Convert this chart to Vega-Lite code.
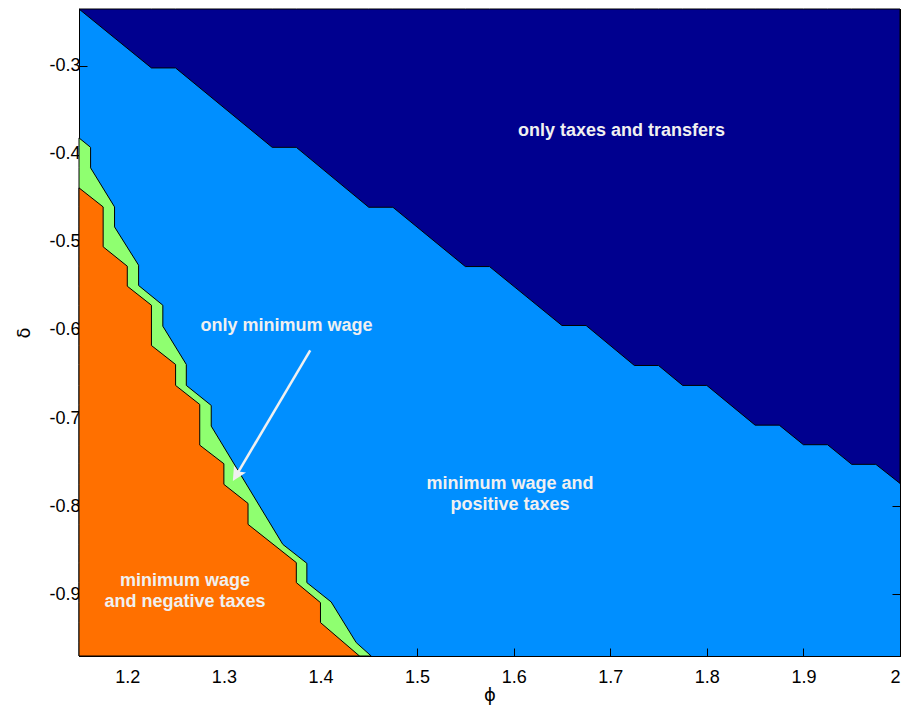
{
  "$schema": "https://vega.github.io/schema/vega-lite/v6.json",
  "width": 821,
  "height": 647,
  "autosize": "none",
  "padding": {"left": 79, "top": 9, "right": 6, "bottom": 54},
  "background": "white",
  "config": {
    "view": {"fill": "#008FFF", "stroke": "#000000", "strokeWidth": 1},
    "axis": {
      "grid": false,
      "domainColor": "#000000",
      "tickColor": "#000000",
      "labelColor": "#000000",
      "titleColor": "#000000",
      "labelFont": "Liberation Sans",
      "titleFont": "DejaVu Sans",
      "labelFontSize": 18,
      "titleFontSize": 18,
      "titleFontWeight": "normal",
      "tickSize": -8,
      "tickWidth": 1,
      "domainWidth": 1
    }
  },
  "datasets": {
    "dark": [
      {"phi": 1.15, "delta": -0.2357},
      {"phi": 1.225, "delta": -0.3026},
      {"phi": 1.25, "delta": -0.3026},
      {"phi": 1.35, "delta": -0.3927},
      {"phi": 1.375, "delta": -0.3927},
      {"phi": 1.45, "delta": -0.4607},
      {"phi": 1.475, "delta": -0.4607},
      {"phi": 1.55, "delta": -0.528},
      {"phi": 1.575, "delta": -0.528},
      {"phi": 1.65, "delta": -0.5949},
      {"phi": 1.675, "delta": -0.5949},
      {"phi": 1.725, "delta": -0.6403},
      {"phi": 1.75, "delta": -0.6403},
      {"phi": 1.775, "delta": -0.6629},
      {"phi": 1.8, "delta": -0.6629},
      {"phi": 1.85, "delta": -0.708},
      {"phi": 1.875, "delta": -0.708},
      {"phi": 1.9, "delta": -0.7302},
      {"phi": 1.925, "delta": -0.7302},
      {"phi": 1.95, "delta": -0.7525},
      {"phi": 1.975, "delta": -0.7525},
      {"phi": 2.0, "delta": -0.7741}
    ],
    "green": [
      {"phi": 1.15, "delta": -0.382},
      {"phi": 1.162, "delta": -0.3927},
      {"phi": 1.162, "delta": -0.416},
      {"phi": 1.1868, "delta": -0.4603},
      {"phi": 1.1868, "delta": -0.483},
      {"phi": 1.2117, "delta": -0.5265},
      {"phi": 1.2117, "delta": -0.5495},
      {"phi": 1.2368, "delta": -0.5719},
      {"phi": 1.2368, "delta": -0.5957},
      {"phi": 1.2611, "delta": -0.6391},
      {"phi": 1.2611, "delta": -0.6629},
      {"phi": 1.2869, "delta": -0.6856},
      {"phi": 1.2869, "delta": -0.7091},
      {"phi": 1.361, "delta": -0.8433},
      {"phi": 1.3859, "delta": -0.8648},
      {"phi": 1.3859, "delta": -0.8867},
      {"phi": 1.4111, "delta": -0.9087},
      {"phi": 1.437, "delta": -0.9548},
      {"phi": 1.4525, "delta": -0.97}
    ],
    "orange": [
      {"phi": 1.15, "delta": -0.4387},
      {"phi": 1.175, "delta": -0.4603},
      {"phi": 1.175, "delta": -0.5056},
      {"phi": 1.2, "delta": -0.5276},
      {"phi": 1.2, "delta": -0.5503},
      {"phi": 1.225, "delta": -0.5719},
      {"phi": 1.225, "delta": -0.6176},
      {"phi": 1.25, "delta": -0.6391},
      {"phi": 1.25, "delta": -0.6629},
      {"phi": 1.275, "delta": -0.6845},
      {"phi": 1.275, "delta": -0.7307},
      {"phi": 1.3, "delta": -0.7518},
      {"phi": 1.3, "delta": -0.7752},
      {"phi": 1.325, "delta": -0.7968},
      {"phi": 1.325, "delta": -0.8206},
      {"phi": 1.375, "delta": -0.864},
      {"phi": 1.375, "delta": -0.8867},
      {"phi": 1.4, "delta": -0.9094},
      {"phi": 1.4, "delta": -0.9321},
      {"phi": 1.4404, "delta": -0.97}
    ],
    "labels": [
      {"phi": 1.7116, "delta": -0.3737, "label": "only taxes and transfers"},
      {"phi": 1.3649, "delta": -0.596, "label": "only minimum wage"},
      {"phi": 1.5963, "delta": -0.7752, "label": "minimum wage and\npositive taxes"},
      {"phi": 1.2598, "delta": -0.8852, "label": "minimum wage\nand negative taxes"}
    ],
    "arrow": [
      {"phi": 1.3894, "delta": -0.6232, "phi2": 1.313, "delta2": -0.7647}
    ],
    "tip": [
      {"phi": 1.3093, "delta": -0.7715}
    ]
  },
  "resolve": {"axis": {"x": "independent", "y": "independent"}},
  "layer": [
    {
      "data": {"name": "dark"},
      "mark": {"type": "area", "orient": "vertical", "fill": "#00008F", "stroke": "#000000", "strokeWidth": 1, "fillOpacity": 1},
      "encoding": {
        "x": {"field": "phi", "type": "quantitative", "scale": {"domain": [1.15, 2.0], "nice": false, "zero": false},
          "axis": {"orient": "bottom", "values": [1.2, 1.3, 1.4, 1.5, 1.6, 1.7, 1.8, 1.9, 2.0], "labelExpr": "datum.value == 2 ? '2' : format(datum.value, '.1f')", "title": "ϕ", "labelPadding": 20.5, "titlePadding": 0}},
        "y": {"field": "delta", "type": "quantitative", "scale": {"domain": [-0.97, -0.2357], "nice": false, "zero": false},
          "axis": {"orient": "left", "values": [-0.9, -0.8, -0.7, -0.6, -0.5, -0.4, -0.3], "labelExpr": "'-' + format(-datum.value, '.1f')", "title": "δ", "labelPadding": 7, "titlePadding": 15}},
        "y2": {"datum": -0.2357}
      }
    },
    {
      "data": {"name": "green"},
      "mark": {"type": "area", "orient": "horizontal", "fill": "#8FFF70", "stroke": "#000000", "strokeWidth": 1, "fillOpacity": 1},
      "encoding": {
        "x": {"field": "phi", "type": "quantitative", "scale": {"domain": [1.15, 2.0], "nice": false, "zero": false},
          "axis": {"orient": "top", "values": [1.2, 1.3, 1.4, 1.5, 1.6, 1.7, 1.8, 1.9, 2.0], "labels": false, "title": null}},
        "x2": {"datum": 1.15},
        "y": {"field": "delta", "type": "quantitative", "scale": {"domain": [-0.97, -0.2357], "nice": false, "zero": false},
          "axis": {"orient": "right", "values": [-0.9, -0.8, -0.7, -0.6, -0.5, -0.4, -0.3], "labels": false, "title": null}}
      }
    },
    {
      "data": {"name": "orange"},
      "mark": {"type": "area", "orient": "horizontal", "fill": "#FF7000", "stroke": "#000000", "strokeWidth": 1, "fillOpacity": 1},
      "encoding": {
        "x": {"field": "phi", "type": "quantitative", "scale": {"domain": [1.15, 2.0], "nice": false, "zero": false}, "axis": null},
        "x2": {"datum": 1.15},
        "y": {"field": "delta", "type": "quantitative", "scale": {"domain": [-0.97, -0.2357], "nice": false, "zero": false}, "axis": null}
      }
    },
    {
      "data": {"name": "labels"},
      "mark": {"type": "text", "font": "Liberation Sans", "fontWeight": "bold", "fontSize": 18, "fill": "#F0F0F0", "align": "center", "baseline": "middle", "lineBreak": "\n", "lineHeight": 21},
      "encoding": {
        "x": {"field": "phi", "type": "quantitative", "scale": {"domain": [1.15, 2.0], "nice": false, "zero": false}, "axis": null},
        "y": {"field": "delta", "type": "quantitative", "scale": {"domain": [-0.97, -0.2357], "nice": false, "zero": false}, "axis": null},
        "text": {"field": "label"}
      }
    },
    {
      "data": {"name": "arrow"},
      "mark": {"type": "rule", "stroke": "#F0F0F0", "strokeWidth": 2.5},
      "encoding": {
        "x": {"field": "phi", "type": "quantitative", "scale": {"domain": [1.15, 2.0], "nice": false, "zero": false}, "axis": null},
        "y": {"field": "delta", "type": "quantitative", "scale": {"domain": [-0.97, -0.2357], "nice": false, "zero": false}, "axis": null},
        "x2": {"field": "phi2"},
        "y2": {"field": "delta2"}
      }
    },
    {
      "data": {"name": "tip"},
      "mark": {"type": "point", "shape": "M0,0 L-0.5,1 L0,0.8 L0.5,1 Z", "filled": true, "fill": "#F0F0F0", "fillOpacity": 1, "strokeWidth": 0, "size": 784, "angle": 210.6},
      "encoding": {
        "x": {"field": "phi", "type": "quantitative", "scale": {"domain": [1.15, 2.0], "nice": false, "zero": false}, "axis": null},
        "y": {"field": "delta", "type": "quantitative", "scale": {"domain": [-0.97, -0.2357], "nice": false, "zero": false}, "axis": null}
      }
    }
  ]
}
